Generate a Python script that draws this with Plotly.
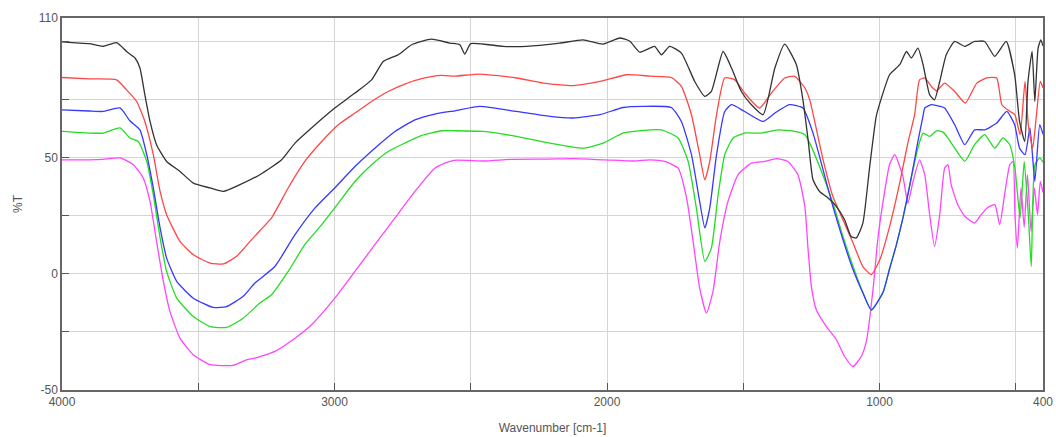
import plotly.graph_objects as go

# ---- data (wavenumber cm-1, %T) ----
wn_black = [4000, 3950, 3900, 3850, 3800, 3763, 3732, 3714, 3696, 3677, 3653, 3616, 3567, 3518, 3457, 3408,
            3347, 3274, 3194, 3145, 3072, 2999, 2925, 2864, 2821, 2766, 2717, 2644, 2577, 2540, 2522, 2500,
            2382, 2295, 2173, 2088, 2014, 1953, 1916, 1880, 1843, 1825, 1800, 1770, 1727, 1678, 1641, 1617,
            1574, 1543, 1507, 1470, 1427, 1384, 1348, 1305, 1281, 1262, 1244, 1220, 1195, 1158, 1128, 1104,
            1085, 1061, 1036, 1012, 995, 963, 926, 901, 883, 859, 840, 816, 798, 779, 755, 724, 687, 651,
            614, 577, 535, 504, 486, 467, 455, 440, 430, 418, 408, 400]
t_black = [99.7, 99.3, 99.0, 97.8, 99.4, 95.6, 92.8, 88.5, 77.0, 65.5, 55.5, 48.3, 44.0, 39.0, 36.9, 35.4,
           38.3, 42.6, 49.0, 56.2, 64.0, 71.3, 77.7, 83.4, 91.3, 94.2, 98.5, 100.9, 99.2, 98.5, 94.5, 99.0,
           97.8, 97.8, 99.2, 100.6, 98.8, 101.4, 100.0, 95.3, 97.0, 97.8, 94.2, 97.8, 94.9, 82.7, 76.3, 78.4,
           95.6, 88.5, 78.4, 72.7, 68.4, 88.5, 98.8, 89.9, 74.8, 57.6, 40.4, 35.4, 33.2, 28.9, 23.2, 16.0,
           15.4, 21.8, 46.1, 67.7, 74.8, 85.6, 89.9, 95.6, 92.8, 97.0, 89.9, 77.0, 74.8, 82.7, 94.2, 99.9, 97.8, 99.9,
           99.9, 93.5, 99.9, 85.6, 65.5, 56.9, 82.7, 95.6, 74.1, 97.0, 100.6, 98.0]

wn_red = [4000, 3900, 3800, 3763, 3726, 3696, 3665, 3640, 3616, 3567, 3518, 3457, 3408, 3359, 3310, 3274,
          3231, 3170, 3109, 3047, 2986, 2925, 2864, 2803, 2742, 2680, 2607, 2560, 2467, 2332, 2234, 2124,
          2026, 1928, 1843, 1764, 1727, 1690, 1660, 1641, 1623, 1598, 1568, 1531, 1495, 1440, 1397, 1348,
          1311, 1274, 1256, 1207, 1171, 1134, 1097, 1061, 1030, 999, 963, 926, 896, 871, 853, 834, 810,
          791, 761, 724, 685, 643, 606, 570, 551, 521, 503, 484, 466, 454, 438, 424, 410, 400]
t_red = [84.4, 83.8, 83.4, 79.1, 74.1, 65.5, 51.2, 35.4, 25.4, 13.9, 8.2, 4.6, 4.2, 7.5, 13.9, 18.5,
         24.0, 36.9, 48.3, 56.9, 64.1, 69.1, 74.1, 78.4, 81.6, 83.9, 85.3, 85.0, 85.9, 84.2, 82.0, 80.9,
         82.7, 85.6, 85.0, 84.4, 80.6, 68.4, 51.2, 40.4, 48.3, 68.4, 84.2, 83.4, 77.7, 71.3, 77.7, 84.2,
         84.9, 79.9, 74.8, 49.0, 33.2, 23.2, 13.2, 3.1, -0.4, 6.0, 20.3, 39.0, 56.2, 68.4, 83.4, 84.2, 80.6,
         78.7, 82.0, 78.4, 73.4, 82.0, 84.2, 84.2, 72.7, 69.8, 68.4, 59.8, 82.7, 64.1, 54.0, 68.4, 82.7, 80.0]

wn_blue = [4000, 3900, 3850, 3787, 3751, 3714, 3689, 3665, 3640, 3616, 3579, 3518, 3445, 3396, 3335, 3292,
           3219, 3145, 3072, 2999, 2925, 2852, 2778, 2705, 2632, 2558, 2467, 2332, 2210, 2124, 2026, 1941,
           1868, 1764, 1727, 1690, 1660, 1641, 1623, 1598, 1568, 1543, 1495, 1427, 1384, 1330, 1281, 1244,
           1207, 1171, 1134, 1097, 1061, 1030, 987, 963, 939, 914, 889, 859, 840, 834, 810, 779, 761, 724,
           687, 651, 614, 570, 533, 504, 486, 466, 448, 430, 412, 400]
t_blue = [70.5, 70.0, 69.8, 71.3, 65.8, 61.9, 51.2, 36.9, 19.7, 6.7, -3.3, -10.5, -14.5, -14.1, -9.7, -4.0,
          3.1, 16.8, 28.2, 36.9, 46.1, 54.0, 61.2, 66.2, 68.7, 70.1, 72.0, 69.8, 67.7, 67.0, 68.4, 71.5,
          72.0, 71.5, 65.5, 51.2, 31.1, 19.7, 28.2, 51.2, 69.8, 72.7, 69.8, 65.5, 69.1, 72.7, 71.3, 60.5,
          44.7, 28.9, 14.6, 1.7, -8.3, -15.5, -8.0, 2.0, 12.0, 24.0, 38.0, 56.9, 68.0, 71.3, 72.7, 72.0, 71.3, 64.1,
          55.5, 61.9, 61.9, 64.8, 69.8, 64.1, 54.0, 51.2, 62.7, 39.7, 64.1, 60.0]

wn_green = [4000, 3900, 3850, 3787, 3751, 3720, 3689, 3665, 3640, 3616, 3579, 3518, 3457, 3396, 3335, 3274,
            3231, 3170, 3109, 3047, 2986, 2925, 2864, 2803, 2742, 2680, 2607, 2558, 2455, 2332, 2210, 2088,
            2014, 1941, 1843, 1800, 1739, 1702, 1672, 1641, 1617, 1592, 1568, 1537, 1495, 1434, 1372, 1311,
            1274, 1256, 1220, 1171, 1134, 1097, 1061, 1030, 987, 963, 939, 914, 889, 859, 840, 816, 791,
            767, 749, 724, 687, 651, 614, 577, 547, 522, 503, 484, 469, 454, 443, 430, 412, 400]
t_green = [61.2, 60.5, 60.5, 62.7, 58.4, 56.9, 48.3, 34.0, 15.4, 1.0, -10.5, -18.4, -22.7, -23.1, -19.1, -12.6,
           -9.0, 1.0, 12.5, 21.1, 30.4, 39.7, 46.9, 52.6, 56.2, 59.5, 61.5, 61.5, 61.2, 59.1, 56.2, 54.0,
           56.2, 60.5, 61.9, 61.9, 58.4, 48.3, 28.2, 5.3, 11.0, 34.0, 51.2, 58.4, 60.5, 60.5, 61.9, 61.2,
           59.8, 56.2, 46.1, 30.4, 16.0, 3.1, -8.0, -15.8, -8.0, 2.5, 12.0, 24.0, 38.0, 54.0, 60.5, 59.1, 61.5,
           60.9, 58.4, 54.0, 48.3, 55.5, 59.8, 54.0, 58.4, 55.5, 45.4, 24.0, 48.3, 25.4, 3.1, 46.9, 49.8, 48.0]

wn_magenta = [4000, 3900, 3850, 3787, 3738, 3702, 3677, 3653, 3628, 3604, 3567, 3518, 3457, 3372, 3323, 3292,
              3219, 3145, 3084, 2999, 2925, 2852, 2778, 2705, 2632, 2595, 2560, 2450, 2350, 2220, 2120, 2010,
              1900, 1843, 1788, 1739, 1708, 1684, 1660, 1635, 1611, 1586, 1556, 1519, 1470, 1421, 1378, 1336,
              1299, 1274, 1262, 1250, 1232, 1195, 1158, 1128, 1097, 1067, 1048, 1024, 1006, 987, 963, 944,
              914, 896, 877, 853, 834, 816, 798, 779, 761, 749, 737, 713, 687, 651, 627, 606, 577, 559, 541,
              522, 510, 503, 494, 481, 469, 457, 444, 432, 420, 410, 400]
t_magenta = [49.0, 49.0, 49.2, 49.8, 46.9, 41.2, 31.1, 13.9, -3.3, -16.2, -27.7, -34.8, -39.1, -39.4, -37.0, -36.3,
             -33.4, -27.7, -21.9, -10.5, 1.0, 12.5, 24.0, 35.4, 45.4, 47.6, 48.8, 48.5, 49.2, 49.3, 49.5, 49.0,
             48.5, 49.0, 48.3, 45.4, 32.6, 13.9, -6.2, -16.9, -7.6, 13.9, 31.1, 42.6, 47.6, 48.3, 49.5, 48.3,
             42.5, 29.0, 10.3, -5.4, -15.5, -22.7, -28.4, -35.6, -39.9, -35.6, -29.0, -7.0, 15.0, 31.0, 47.0, 51.2,
             41.8, 30.4, 39.7, 49.0, 42.6, 25.4, 11.7, 25.4, 45.4, 46.9, 38.3, 29.7, 24.7, 21.8, 25.4, 28.2, 29.7, 21.1, 34.0,
             46.9, 48.3, 25.4, 11.0, 36.9, 20.0, 42.6, 18.2, 36.9, 25.4, 39.7, 35.0]

x_tickvals = [4000, 3500, 3000, 2500, 2000, 1500, 1000, 500, 400]
x_ticktext = ["4000", "", "3000", "", "2000", "", "1000", "", "400"]
y_tickvals = [-50, -25, 0, 25, 50, 75, 100, 110]
y_ticktext = ["-50", "", "0", "", "50", "", "", "110"]

series = [
    (wn_magenta, t_magenta, "#ff44ff"),
    (wn_green, t_green, "#22dd22"),
    (wn_blue, t_blue, "#3838ff"),
    (wn_red, t_red, "#ff4646"),
    (wn_black, t_black, "#333333"),
]

fig = go.Figure()
for xs, ys, col in series:
    fig.add_trace(go.Scatter(x=xs, y=ys, mode="lines",
                             line=dict(color=col, width=1.3, shape="spline", smoothing=0.5),
                             showlegend=False, hoverinfo="skip"))

font_family = "Liberation Sans Narrow, Liberation Sans, Arial, sans-serif"
fig.update_layout(
    width=1056, height=437,
    margin=dict(l=62, r=13, t=18, b=47),
    paper_bgcolor="white", plot_bgcolor="white",
    font=dict(family=font_family, size=12, color="#555555"),
)
fig.update_xaxes(
    range=[4000, 400], tickmode="array", tickvals=x_tickvals, ticktext=x_ticktext,
    showgrid=True, gridcolor="#d4d4d4", gridwidth=1,
    ticks="inside", ticklen=7, tickcolor="#555555",
    showline=True, mirror=True, linecolor="#666666", linewidth=1.5,
    zeroline=False, automargin=False,
    title=dict(text="Wavenumber [cm-1]", standoff=15, font=dict(size=12, color="#555555")),
    tickfont=dict(size=12, color="#555555"),
)
fig.update_yaxes(
    range=[-50, 110], tickmode="array", tickvals=y_tickvals, ticktext=y_ticktext,
    showgrid=True, gridcolor="#d4d4d4", gridwidth=1,
    ticks="inside", ticklen=7, tickcolor="#555555",
    showline=True, mirror=True, linecolor="#666666", linewidth=1.5,
    zeroline=False, automargin=False,
    title=dict(text="%T", standoff=14, font=dict(size=12, color="#555555")),
    tickfont=dict(size=12, color="#555555"),
)

# remove the default 8px page margin so the figure fills the window exactly
fig.write_html("out.html", config={"displayModeBar": False},
               post_script="document.body.style.margin='0px';document.body.style.overflow='hidden';")
